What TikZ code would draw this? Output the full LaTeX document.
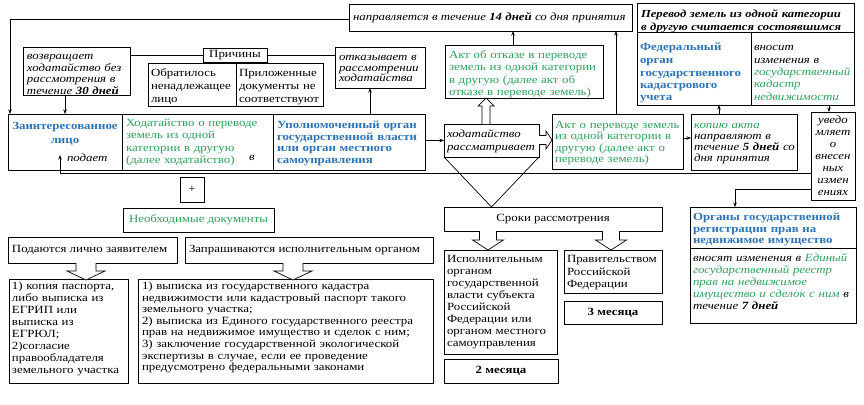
\documentclass[tikz,border=0pt]{standalone}
\usepackage{fontspec}
\setmainfont{Liberation Serif}[FakeStretch=1.17]
\usetikzlibrary{arrows.meta,calc}
\definecolor{tblue}{RGB}{46,116,181}
\definecolor{tgreen}{RGB}{46,160,92}
\tikzset{
 bx/.style={draw, line width=0.75pt, inner sep=0pt, outer sep=0pt},
 tx/.style={anchor=base west, inner sep=0pt, outer sep=0pt, align=left, text width=300pt, font=\fontsize{11}{#1}\selectfont},
 tx/.default=12,
 tc/.style={anchor=center, inner sep=0pt, outer sep=0pt, align=center, font=\fontsize{11}{#1}\selectfont},
 tc/.default=12,
 ts/.style={anchor=west, inner sep=0pt, outer sep=0pt, font=\fontsize{11}{12}\selectfont},
 arr/.style={line width=0.7pt, -{Stealth[length=4.5pt,width=3.5pt]}},
 ln/.style={line width=0.7pt},
 hol/.style={line width=0.7pt, fill=white},
}
\newcommand\mkbox[5]{\node[bx, minimum width={(#4)-(#2)}, minimum height={(#5)-(#3)}] (#1) at ({((#2)+(#4))/2},{((#3)+(#5))/2}) {};}
\newcommand\hdown[6]{\draw[hol] ({#1-#4},{#2}) -- ({#1-#4},{#3-#6}) -- ({#1-#5},{#3-#6}) -- ({#1},{#3}) -- ({#1+#5},{#3-#6}) -- ({#1+#4},{#3-#6}) -- ({#1+#4},{#2});}
\newcommand\hup[6]{\draw[hol] ({#1-#4},{#2}) -- ({#1-#4},{#3+#6}) -- ({#1-#5},{#3+#6}) -- ({#1},{#3}) -- ({#1+#5},{#3+#6}) -- ({#1+#4},{#3+#6}) -- ({#1+#4},{#2});}
\newcommand\hright[6]{\draw[hol] ({#2},{#1-#4}) -- ({#3-#6},{#1-#4}) -- ({#3-#6},{#1-#5}) -- ({#3},{#1}) -- ({#3-#6},{#1+#5}) -- ({#3-#6},{#1+#4}) -- ({#2},{#1+#4});}
\begin{document}
\begin{tikzpicture}[x=1pt,y=-1pt]
\useasboundingbox (0,0) rectangle (864,404);
\fill[white] (0,0) rectangle (864,404);
% boxes
\mkbox{napr}{349}{4}{632}{31}
\mkbox{perevod}{637}{3}{854}{105}
\mkbox{vozv}{23}{47}{130}{95}
\mkbox{prich}{203}{48}{267}{62}
\mkbox{obr}{148}{63}{236}{106}
\mkbox{pril}{236}{63}{323}{106}
\mkbox{otk}{335}{47}{425}{88}
\mkbox{aktotk}{445}{45}{603}{98}
\mkbox{zl}{8}{114}{122}{170}
\mkbox{hod}{122}{114}{273}{170}
\mkbox{upol}{273}{114}{425}{170}
\mkbox{khod}{444}{124}{539}{157}
\mkbox{aktper}{552}{114}{683}{169}
\mkbox{kop}{691}{114}{797}{170}
\mkbox{uved}{811}{112}{855}{200}
\mkbox{plus}{180}{177}{204}{202}
\mkbox{neob}{123}{208}{274}{232}
\mkbox{pod}{8}{237}{177}{263}
\mkbox{zap}{185}{237}{433}{263}
\mkbox{pasp}{9}{279}{128}{383}
\mkbox{vyp}{138}{279}{433}{383}
\mkbox{sroki}{444}{207}{662}{231}
\mkbox{isp}{444}{250}{557}{354}
\mkbox{m2}{444}{359}{558}{383}
\mkbox{prav}{564}{250}{662}{293}
\mkbox{m3}{564}{301}{662}{324}
\mkbox{organy}{690}{207}{856}{323}
% inner dividers
\coordinate (s1) at (751,32);
\draw[ln] (perevod.west |- s1) -- (perevod.east |- s1);
\draw[ln] (s1) -- (perevod.south -| s1);
\coordinate (s2) at (0,248);
\draw[ln] (organy.west |- s2) -- (organy.east |- s2);
% texts
\node[ts] (napr-t) at (353,17.5) {\itshape направляется в течение \textbf{14 дней} со дня принятия};
\node[tx=13, font=\fontsize{10.8}{13}\selectfont] (perevod-t) at (641,17.5) {\bfseries\itshape Перевод земель из одной категории\\в другую считается состоявшимся};
\node[tx=12.5, text=tblue] (fed-t) at (640,51) {\bfseries Федеральный\\орган\\государственного\\кадастрового\\учета};
\node[tx=12.3] (vnos-t) at (754,51) {\itshape вносит\\изменения в\\\textcolor{tgreen}{государственный}\\\textcolor{tgreen}{кадастр}\\\textcolor{tgreen}{недвижимости}};
\node[tx=11.7] (vozv-t) at (27,59.5) {\itshape возвращает\\ходатайство без\\рассмотрения в\\течение \textbf{30 дней}};
\node[tc] (prich-t) at (prich) {Причины};
\node[tx=13] (obr-t) at (151,76.5) {Обратилось\\ненадлежащее\\лицо};
\node[tx=13] (pril-t) at (239,76.5) {Приложенные\\документы не\\соответствуют};
\node[tx=10.6] (otk-t) at (339,60.5) {\itshape отказывает в\\рассмотрении\\ходатайства};
\node[tx=12.3, text=tgreen] (aktotk-t) at (449,58.5) {Акт об отказе в переводе\\земель из одной категории\\в другую (далее акт об\\отказе в переводе земель)};
\node[tc=14, text=tblue, anchor=north] (zl-t) at (65,122.5) {\textbf{Заинтересованное}\\\textbf{лицо}};
\node[ts] (podaet-t) at (67,158) {\itshape подает};
\node[tx=12.3, text=tgreen] (hod-t) at (126,126.5) {Ходатайство о переводе\\земель из одной\\категории в другую\\(далее ходатайство)};
\node[ts] (v-t) at (249,158) {\itshape в};
\node[tx=11.7, text=tblue] (upol-t) at (277,128.5) {\bfseries Уполномоченный орган\\государственной власти\\или орган местного\\самоуправления};
\node[tx=13] (khod-t) at (447,137.5) {\itshape ходатайство\\рассматривает};
\node[tx=11.4, text=tgreen] (aktper-t) at (555,128.5) {Акт о переводе земель\\из одной категории в\\другую (далее акт о\\переводе земель)};
\node[tx=11] (kop-t) at (694,128.5) {\itshape \textcolor{tgreen}{копию акта}\\направляют в\\течение \textbf{5 дней} со\\дня принятия};
\node[tc=12, anchor=north] (uved-t) at (833,115.5) {\itshape уведо\\\itshape мляет\\\itshape о\\\itshape внесен\\\itshape ных\\\itshape измен\\\itshape ениях};
\node[tc] (plus-t) at (plus) {+};
\node[tc, text=tgreen] (neob-t) at (neob) {Необходимые документы};
\node[ts] (pod-t) at (12,250) {Подаются лично заявителем};
\node[ts] (zap-t) at (189,250) {Запрашиваются исполнительным органом};
\node[tx=12] (pasp-t) at (12,289.5) {1) копия паспорта,\\либо выписка из\\ЕГРИП или\\выписка из\\ЕГРЮЛ;\\2)согласие\\правообладателя\\земельного участка};
\node[tx=11.6] (vyp-t) at (142,289.5) {1) выписка из государственного кадастра\\недвижимости или кадастровый паспорт такого\\земельного участка;\\2) выписка из Единого государственного реестра\\прав на недвижимое имущество и сделок с ним;\\3) заключение государственной экологической\\экспертизы в случае, если ее проведение\\предусмотрено федеральными законами};
\node[tc] (sroki-t) at (sroki) {Сроки рассмотрения};
\node[tx=12] (isp-t) at (447,262.5) {Исполнительным\\органом\\государственной\\власти субъекта\\Российской\\Федерации или\\органом местного\\самоуправления};
\node[tc] (m2-t) at (m2) {\bfseries 2 месяца};
\node[tx=12.5] (prav-t) at (567,262.5) {Правительством\\Российской\\Федерации};
\node[tc] (m3-t) at (m3) {\bfseries 3 месяца};
\node[tx=11.5, text=tblue] (org-t) at (693,220.5) {\bfseries Органы государственной\\регистрации прав на\\недвижимое имущество};
\node[tx=12] (orgb-t) at (693,261.5) {\itshape вносят изменения в \textcolor{tgreen}{Единый}\\\textcolor{tgreen}{государственный реестр}\\\textcolor{tgreen}{прав на недвижимое}\\\textcolor{tgreen}{имущество и сделок с ним} в\\течение \textbf{7 дней}};
% connectors
\coordinate (c1) at (10,19);
\draw[arr] (napr.west |- c1) -- (c1) -- (c1 |- zl.north);
\coordinate (a1) at (65,0);
\draw[arr] (vozv.south -| a1) -- (zl.north -| a1);
\draw[ln] (vozv.east |- prich.west) -- (prich.west);
\draw[ln] (prich.east) -- (prich.east -| otk.west);
\coordinate (a2) at (370,0);
\draw[arr] (upol.north -| a2) -- (otk.south -| a2);
\draw[arr] (upol.east |- khod.west) -- (khod.west);
\coordinate (a3) at (513,0);
\draw[arr] (aktotk.north -| a3) -- (napr.south -| a3);
\coordinate (a4) at (616,0);
\draw[arr] (aktper.north -| a4) -- (napr.south -| a4);
\coordinate (a5) at (0,138);
\draw[arr] (aktper.east |- a5) -- (kop.west |- a5);
\coordinate (a6) at (719,0);
\draw[arr] (kop.north -| a6) -- (perevod.south -| a6);
\coordinate (a7) at (829,0);
\draw[arr] (perevod.south -| a7) -- (uved.north -| a7);
\coordinate (a8) at (60,173);
\coordinate (a8e) at (60,155);
\draw[arr] (uved.west |- a8) -- (a8) -- (a8e);
\coordinate (a9) at (735,189);
\draw[arr] (uved.west |- a9) -- (a9) -- (organy.north -| a9);
\coordinate (vt) at (491,207);
\draw[ln] (khod.south west) -- (vt -| khod.south) -- (khod.south east);
% hollow arrows
\hup{486}{124}{98}{4}{8}{8}
\hright{140}{539}{552}{4.5}{9}{6}
\hdown{86}{263}{280}{10}{19}{9}
\hdown{293}{263}{280}{10}{19}{9}
\hdown{488}{231}{250}{8.5}{15.5}{10}
\hdown{611}{231}{250}{8.5}{15.5}{10}
\end{tikzpicture}
\end{document}
